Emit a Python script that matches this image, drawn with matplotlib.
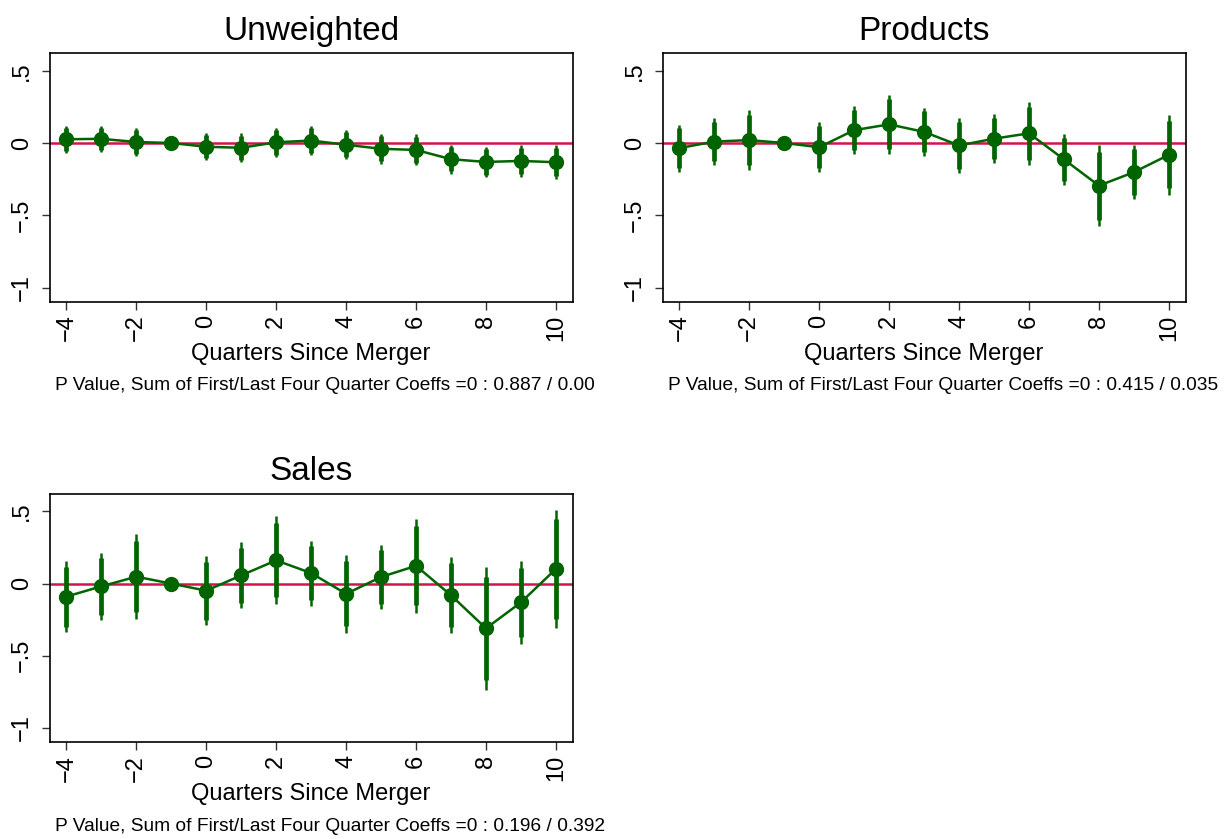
import matplotlib
matplotlib.use("Agg")
import matplotlib.pyplot as plt

plt.rcParams["font.family"] = ["Liberation Sans", "DejaVu Sans"]

quarters = [-4, -3, -2, -1, 0, 1, 2, 3, 4, 5, 6, 7, 8, 9, 10]

# coefficients and 95% CI half widths
unweighted_coef = [0.026, 0.029, 0.007, 0.0, -0.026, -0.033, 0.005, 0.017, -0.012, -0.040, -0.048, -0.112, -0.131, -0.124, -0.133]
unweighted_ci = [0.093, 0.090, 0.096, 0.0, 0.094, 0.099, 0.102, 0.101, 0.101, 0.102, 0.107, 0.099, 0.104, 0.108, 0.117]

products_coef = [-0.035, 0.010, 0.020, 0.0, -0.029, 0.089, 0.129, 0.077, -0.017, 0.030, 0.067, -0.113, -0.295, -0.202, -0.082]
products_ci = [0.163, 0.162, 0.208, 0.0, 0.174, 0.165, 0.205, 0.168, 0.193, 0.170, 0.219, 0.177, 0.281, 0.188, 0.275]

sales_coef = [-0.090, -0.019, 0.048, 0.0, -0.049, 0.057, 0.161, 0.073, -0.071, 0.046, 0.123, -0.081, -0.310, -0.130, 0.102]
sales_ci = [0.248, 0.233, 0.293, 0.0, 0.239, 0.229, 0.304, 0.225, 0.269, 0.220, 0.325, 0.264, 0.424, 0.285, 0.410]

titles = ["Unweighted", "Products", "Sales"]
p_values = ["0.887 / 0.00", "0.415 / 0.035", "0.196 / 0.392"]

xticks = [-4, -2, 0, 2, 4, 6, 8, 10]
xtick_labels = ["\u22124", "\u22122", "0", "2", "4", "6", "8", "10"]
yticks = [-1, -0.5, 0, 0.5]
ytick_labels = ["\u22121", "\u2212.5", "0", ".5"]

inner_share = 0.84   # 90% vs 95% interval
green = "#006400"
red = "#D2144A"

W, H = 1231, 839
fig = plt.figure(figsize=(W / 100, H / 100), dpi=100)

# axes boxes in pixels: left, top, right, bottom
boxes = [(49.6, 53.4, 572.7, 302.0),
         (662.6, 53.4, 1185.6, 302.0),
         (49.6, 494.1, 572.7, 742.4)]

series = [(unweighted_coef, unweighted_ci),
          (products_coef, products_ci),
          (sales_coef, sales_ci)]

for (l, t, r, b), (coef, ci), title, pv in zip(boxes, series, titles, p_values):
    ax = fig.add_axes([l / W, 1 - b / H, (r - l) / W, (b - t) / H])
    ax.axhline(0, color=red, lw=1.8, zorder=1)
    lo = [c - e for c, e in zip(coef, ci)]
    hi = [c + e for c, e in zip(coef, ci)]
    lo_in = [c - e * inner_share for c, e in zip(coef, ci)]
    hi_in = [c + e * inner_share for c, e in zip(coef, ci)]
    ax.vlines(quarters, lo, hi, color=green, lw=1.8, zorder=2)
    ax.vlines(quarters, lo_in, hi_in, color=green, lw=3.4, zorder=2)
    ax.plot(quarters, coef, color=green, lw=1.8, marker="o", ms=10, zorder=3)

    ax.set_xlim(-4.48, 10.48)
    ax.set_ylim(-1.10, 0.62)
    ax.set_xticks(xticks)
    ax.set_xticklabels(xtick_labels, rotation=90, fontsize=17)
    ax.set_yticks(yticks)
    ax.set_yticklabels(ytick_labels, rotation=90, fontsize=17, va="center")
    ax.tick_params(axis="both", length=6, width=1, color="#333333", pad=3)
    ax.tick_params(axis="y", pad=6)
    for s in ax.spines.values():
        s.set_linewidth(1.2)

    ax.set_title(title, fontsize=24, pad=10)
    ax.annotate("Quarters Since Merger", xy=(0.5, 0), xycoords="axes fraction",
                xytext=(0, -52 * 0.72), textcoords="offset points",
                ha="center", va="center", fontsize=17)
    ax.annotate("P Value, Sum of First/Last Four Quarter Coeffs =0 : " + pv,
                xy=(0, 0), xycoords="axes fraction",
                xytext=(5 * 0.72, -84 * 0.72), textcoords="offset points",
                ha="left", va="center", fontsize=13.8)

fig.savefig("out.png", dpi=100)
